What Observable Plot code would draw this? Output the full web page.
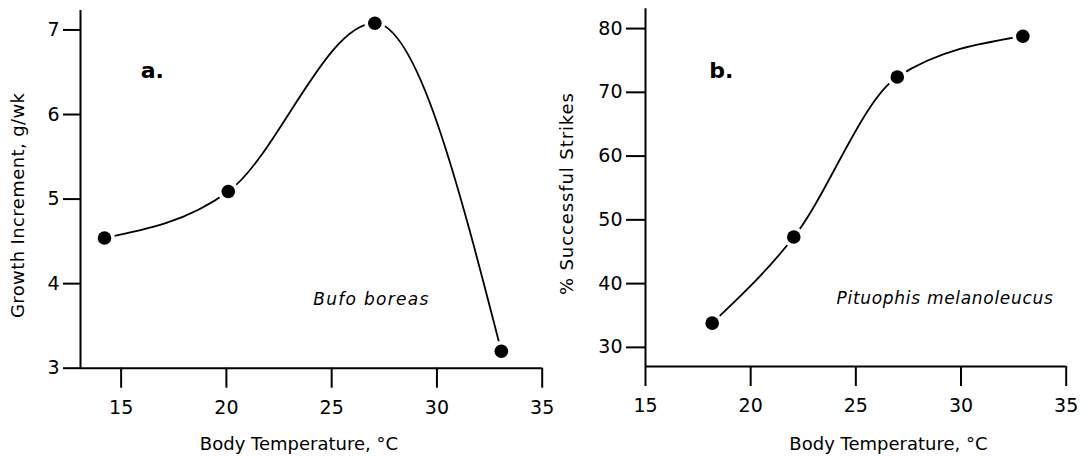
<!DOCTYPE html>
<html>
<head>
<meta charset="utf-8">
<script src="https://cdn.jsdelivr.net/npm/d3@7"></script>
<script src="https://cdn.jsdelivr.net/npm/@observablehq/plot@0.6"></script>
<style>
  html, body { margin: 0; padding: 0; background: #fff; }
  #wrap { position: relative; width: 1089px; height: 456px; overflow: hidden; }
  #pa { position: absolute; left: 0; top: 0; }
  #pb { position: absolute; left: 545px; top: 0; }
  svg { overflow: visible; }
</style>
</head>
<body>
<div id="wrap"><div id="pa"></div><div id="pb"></div></div>
<script>
// Panel a: Bufo boreas
const tempA = [14.21, 20.09, 27.05, 33.06];
const growthA = [4.54, 5.09, 7.08, 3.2];
// Panel b: Pituophis melanoleucus
const tempB = [18.17, 22.05, 26.97, 32.94];
const strikesB = [33.8, 47.3, 72.4, 78.8];

const xTicks = [15, 20, 25, 30, 35];
const yTicksA = [3, 4, 5, 6, 7];
const yTicksB = [30, 40, 50, 60, 70, 80];

const xTitle = "Body Temperature, °C";
const yTitleA = "Growth Increment, g/wk";
const yTitleB = "% Successful Strikes";
const speciesA = "Bufo boreas";
const speciesB = "Pituophis melanoleucus";

const dataA = tempA.map((t, i) => ({t, v: growthA[i]}));
const dataB = tempB.map((t, i) => ({t, v: strikesB[i]}));

const FONT = "DejaVu Sans";

function panel({data, width, mL, mR, mT, mB, xDom, yDom, yTicks, yTickSize, yTitle, yDx, yDy, xDx, xDy, letter, lx, ly, species, sx, sy}) {
  return Plot.plot({
    width, height: 456,
    marginLeft: mL, marginRight: mR, marginTop: mT, marginBottom: mB,
    style: {background: "transparent", color: "black", fontFamily: FONT},
    x: {domain: xDom},
    y: {domain: yDom},
    marks: [
      Plot.ruleX([xDom[0]], {stroke: "black", strokeWidth: 2}),
      Plot.ruleY([yDom[0]], {stroke: "black", strokeWidth: 2}),
      Plot.axisX({ticks: xTicks, tickFormat: d => String(d), tickSize: 20, tickPadding: 12, fontSize: 19, strokeWidth: 2, label: null}),
      Plot.axisY({ticks: yTicks, tickFormat: d => String(d), tickSize: yTickSize, tickPadding: 4, fontSize: 19, strokeWidth: 2, label: null}),
      Plot.line(data, {x: "t", y: "v", curve: "monotone-x", stroke: "black", strokeWidth: 1.8}),
      Plot.dot(data, {x: "t", y: "v", r: 10.5, fill: "white"}),
      Plot.dot(data, {x: "t", y: "v", r: 6.8, fill: "black"}),
      Plot.text([yTitle], {frameAnchor: "left", textAnchor: "middle", lineAnchor: "middle", rotate: -90, dx: yDx, dy: yDy, fontSize: 18, fill: "black"}),
      Plot.text([xTitle], {frameAnchor: "bottom", textAnchor: "middle", lineAnchor: "middle", dx: xDx, dy: xDy, fontSize: 18, fill: "black"}),
      Plot.text([letter], {x: () => lx, y: () => ly, fontSize: 22, fontWeight: "bold", fill: "black"}),
      Plot.text([species], {x: () => sx, y: () => sy, fontSize: 17, fontStyle: "italic", fill: "black"})
    ]
  });
}

function spacing(svg, spec) {
  d3.select(svg).selectAll("text").each(function () {
    const t = this.textContent;
    if (spec[t] != null) d3.select(this).attr("letter-spacing", spec[t]);
  });
}

const plotA = panel({
  data: dataA, width: 560, mL: 80, mR: 18.3, mT: 10, mB: 88.3,
  xDom: [13.07, 35], yDom: [3, 7.23], yTicks: yTicksA, yTickSize: 17,
  yTitle: yTitleA, yDx: -62.7, yDy: 16, xDx: -12.4, xDy: 76,
  letter: "a.", lx: 16.48, ly: 6.52, species: speciesA, sx: 26.89, sy: 3.81
});
const plotB = panel({
  data: dataB, width: 544, mL: 100, mR: 23.3, mT: 8.3, mB: 90,
  xDom: [15, 35], yDom: [27, 83.1], yTicks: yTicksB, yTickSize: 19,
  yTitle: yTitleB, yDx: -78.3, yDy: 6, xDx: 32.6, xDy: 78,
  letter: "b.", lx: 18.6, ly: 73.3, species: speciesB, sx: 29.24, sy: 37.7
});
spacing(plotA, {[yTitleA]: 0.4, [speciesA]: 1.3});
spacing(plotB, {[yTitleB]: 0.9, [speciesB]: 0.7});
document.getElementById("pa").append(plotA);
document.getElementById("pb").append(plotB);
</script>
</body>
</html>
